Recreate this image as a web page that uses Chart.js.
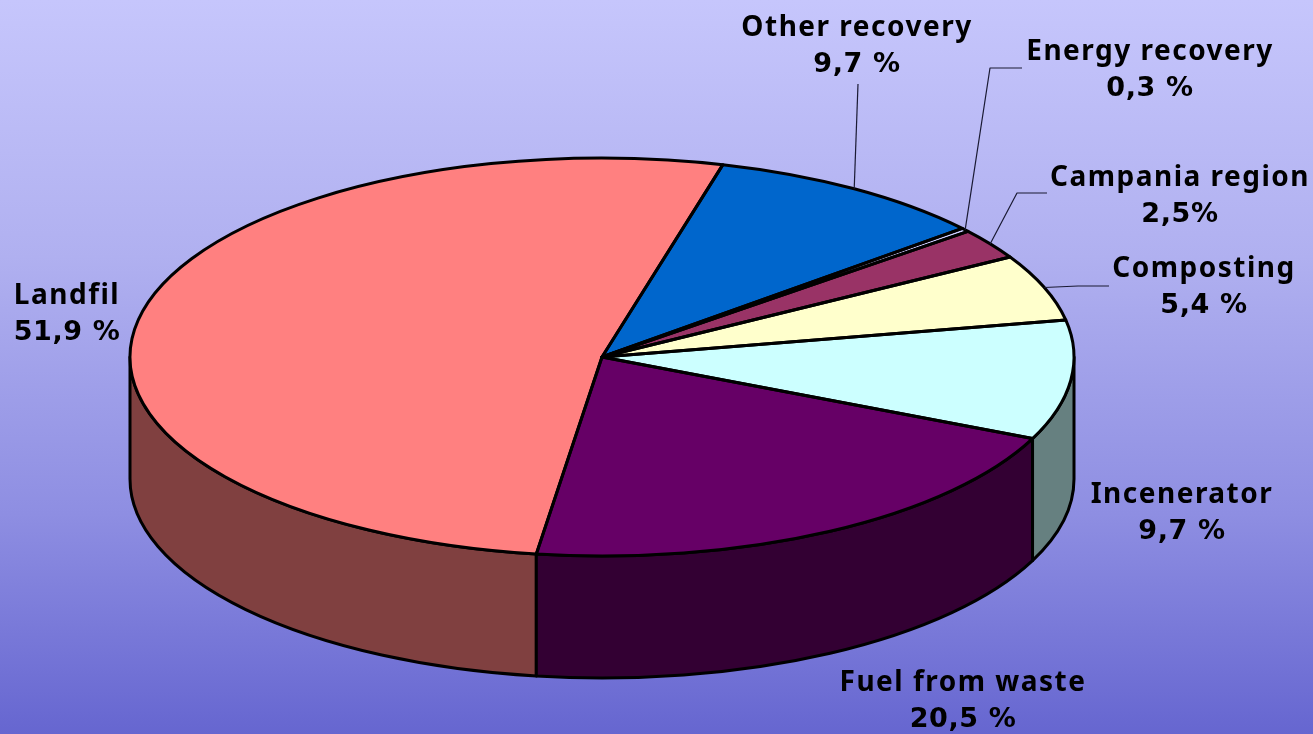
<!DOCTYPE html>
<html>
<head>
<meta charset="utf-8">
<style>
html,body{margin:0;padding:0;width:1313px;height:734px;overflow:hidden;background:#9090e0}
#wrap{position:relative;width:1313px;height:734px}
canvas{display:block}
</style>
<script src="https://cdn.jsdelivr.net/npm/chart.js@4/dist/chart.umd.min.js"></script>
</head>
<body>
<div id="wrap"><canvas id="c" width="1313" height="734"></canvas></div>
<script>
const categories = ['Landfil','Other recovery','Energy recovery','Campania region','Composting','Incenerator','Fuel from waste'];
const shares = [51.9, 9.7, 0.3, 2.5, 5.4, 9.7, 20.5];
const shareLabels = ['51,9 %','9,7 %','0,3 %','2,5%','5,4 %','9,7 %','20,5 %'];
const topColors = ['#FF8080','#0066CC','#CCCCFF','#993366','#FFFFCC','#CCFFFF','#660066'];
const wallColors = ['#804040','#003366','#666680','#4D1A33','#808066','#668080','#330033'];

const labelPos = [[67,296],[857,28],[1150,52],[1180,178],[1204,269],[1182,495],[963,683]];
const labelGap = 37;
const leaders = {
  1:[[858,84]],
  2:[[990,68],[1022,68]],
  3:[[1017,193],[1047,193]],
  4:[[1078,286],[1109,286]]
};
const rx = 472, ry = 199, depth = 122;

function ellipseTransform(ctx, a){
  ctx.translate(a.x, a.y);
  ctx.scale(rx/a.outerRadius, ry/a.outerRadius);
}
const pie3d = {
  id:'pie3d',
  beforeDraw(chart){
    const {ctx,width,height} = chart;
    const g = ctx.createLinearGradient(0,0,0,height);
    g.addColorStop(0,'#C6C6FC');
    g.addColorStop(0.35,'#B0B0F0');
    g.addColorStop(0.7,'#8E8EE2');
    g.addColorStop(1,'#6666D0');
    ctx.save();ctx.fillStyle=g;ctx.fillRect(0,0,width,height);ctx.restore();
  },
  beforeDatasetsDraw(chart){
    const ctx = chart.ctx, arcs = chart.getDatasetMeta(0).data;
    ctx.save();
    ctx.lineWidth = 3; ctx.strokeStyle = '#000'; ctx.lineJoin='round';
    arcs.forEach((a,i)=>{
      const T = Math.PI*2;
      for(let k=-1;k<=1;k++){
        const s = Math.max(a.startAngle+k*T,0), e = Math.min(a.endAngle+k*T,Math.PI);
        if(e<=s) continue;
        ctx.beginPath();
        ctx.ellipse(a.x,a.y,rx,ry,0,s,e,false);
        ctx.ellipse(a.x,a.y+depth,rx,ry,0,e,s,true);
        ctx.closePath();
        ctx.fillStyle = wallColors[i];
        ctx.fill();ctx.stroke();
      }
    });
    ctx.restore();
    ctx.save();
    ellipseTransform(ctx, arcs[0]);
    ctx.translate(-arcs[0].x,-arcs[0].y);
  },
  afterDatasetsDraw(chart){
    const ctx = chart.ctx, arcs = chart.getDatasetMeta(0).data;
    ctx.restore();
    ctx.save();
    ctx.lineWidth = 3; ctx.strokeStyle='#000'; ctx.lineJoin='round';
    arcs.forEach(a=>{
      ctx.beginPath();
      ctx.moveTo(a.x,a.y);
      ctx.ellipse(a.x,a.y,rx,ry,0,a.startAngle,a.endAngle,false);
      ctx.closePath();
      ctx.stroke();
    });
    ctx.lineWidth = 1.2; ctx.strokeStyle='#1a1a33';
    Object.keys(leaders).forEach(i=>{
      const a = arcs[i], mid=(a.startAngle+a.endAngle)/2, pts=leaders[i];
      ctx.beginPath();
      ctx.moveTo(a.x+rx*Math.cos(mid),a.y+ry*Math.sin(mid));
      pts.forEach(p=>ctx.lineTo(p[0],p[1]));
      ctx.stroke();
    });
    ctx.fillStyle='#000';
    ctx.textAlign='center';ctx.textBaseline='middle';
    categories.forEach((c,i)=>{
      const p=labelPos[i];
      ctx.font='bold 28px "Noto Sans"';
      ctx.letterSpacing='1.5px';
      ctx.fillText(c,p[0],p[1]);
      ctx.font='bold 27px "DejaVu Sans"';
      ctx.letterSpacing='0.6px';
      ctx.fillText(shareLabels[i],p[0],p[1]+labelGap);
    });
    ctx.restore();
  }
};
new Chart(document.getElementById('c'),{
  type:'pie',
  data:{labels:categories,datasets:[{data:shares,backgroundColor:topColors,borderWidth:0,clip:false}]},
  options:{
    responsive:false,animation:false,rotation:188,
    layout:{padding:{left:0,right:109,top:0,bottom:20}},
    events:[],
    plugins:{legend:{display:false},tooltip:{enabled:false},title:{display:false}}
  },
  plugins:[pie3d]
});
</script>
</body>
</html>
